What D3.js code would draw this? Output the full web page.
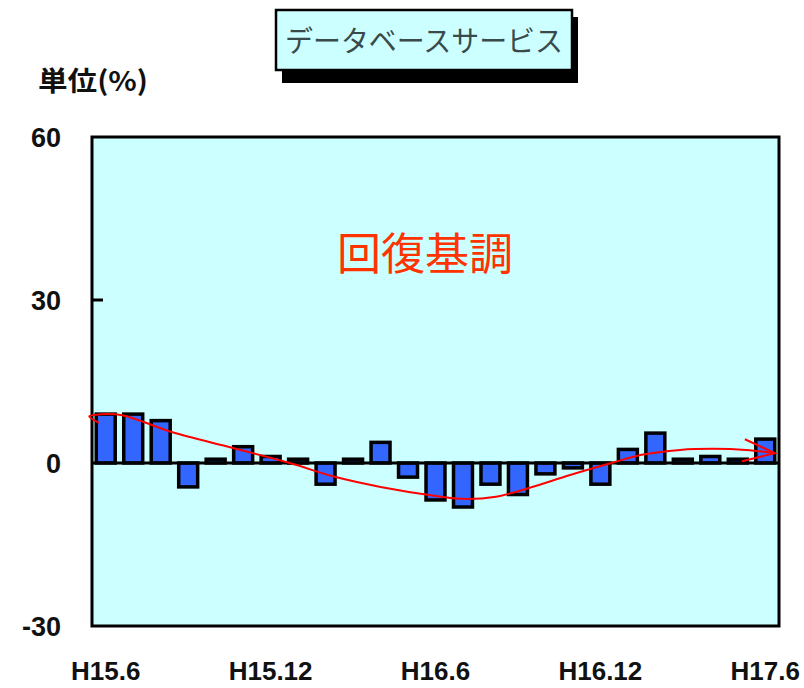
<!DOCTYPE html>
<html>
<head>
<meta charset="utf-8">
<script src="https://cdn.jsdelivr.net/npm/d3@7"></script>
<style>
  body { margin: 0; background: #fff; }
  svg { display: block; }
</style>
</head>
<body>
<svg id="chart"></svg>
<script>
// months H15.6 .. H17.6
var months = d3.range(25).map(function(i){ return "m" + i; });
var values = [9.0, 9.0, 7.8, -4.4, 0.7, 3.0, 1.2, 0.7, -3.9, 0.7,
              3.8, -2.6, -6.8, -8.1, -3.9, -5.8, -2.0, -0.9, -3.9, 2.5,
              5.5, 0.7, 1.2, 0.7, 4.4];
var tickLabels = [{i: 0, t: "H15.6"}, {i: 6, t: "H15.12"}, {i: 12, t: "H16.6"},
                  {i: 18, t: "H16.12"}, {i: 24, t: "H17.6"}];
var yTicks = [60, 30, 0, -30];
// hand drawn trend line: [month index, value]
var trend = [[-0.25, 7.4], [-0.6, 8.6], [-0.2, 8.95], [0.6, 8.8], [2.4, 5.7], [4.6, 2.8],
             [6.7, 0], [8.3, -2.5], [10, -4.4], [12.2, -6.2], [13.0, -6.6], [14.2, -6.2],
             [15.4, -4.6], [16.9, -2.2], [18.4, 0], [19.5, 1.5], [20.9, 2.4], [22.1, 2.6],
             [23.3, 2.4], [24.35, 1.8]];

var width = 804, height = 688;
var plotL = 92, plotR = 779, plotT = 137, plotB = 626;

var svg = d3.select("#chart").attr("width", width).attr("height", height);

var x = d3.scaleBand().domain(months).range([plotL, plotR]).paddingInner(0.31).paddingOuter(0.155);
var y = d3.scaleLinear().domain([-30, 60]).range([plotB, plotT]);
var step = x.step();
function xi(i) { return plotL + x.paddingOuter() * step + x.bandwidth() / 2 + i * step; }

// title box with shadow
svg.append("rect").attr("x", 282).attr("y", 17).attr("width", 296).attr("height", 66).attr("fill", "#000");
svg.append("rect").attr("x", 276).attr("y", 10).attr("width", 296).attr("height", 60)
  .attr("fill", "#ccffff").attr("stroke", "#000").attr("stroke-width", 2.5);
svg.append("text").attr("x", 424).attr("y", 52).attr("text-anchor", "middle")
  .attr("font-family", "Noto Sans CJK JP").attr("font-size", 29).attr("fill", "#3a4a4a")
  .attr("textLength", 278).attr("lengthAdjust", "spacingAndGlyphs")
  .text("データベースサービス");

// unit label
svg.append("text").attr("x", 38).attr("y", 91)
  .attr("font-family", "Noto Sans CJK JP").attr("font-weight", "bold").attr("font-size", 27)
  .attr("textLength", 110).attr("lengthAdjust", "spacingAndGlyphs")
  .attr("fill", "#111").text("単位(%)");

// plot background
svg.append("rect").attr("x", plotL).attr("y", plotT).attr("width", plotR - plotL).attr("height", plotB - plotT)
  .attr("fill", "#ccffff").attr("stroke", "#000").attr("stroke-width", 3);

// y tick labels
svg.append("g").selectAll("text").data(yTicks).join("text")
  .attr("x", 61).attr("y", function(d){ return y(d) + 10; })
  .attr("text-anchor", "end")
  .attr("font-family", "Liberation Sans Narrow, Liberation Sans, Arial").attr("font-weight", "bold")
  .attr("font-size", 27).attr("fill", "#111")
  .text(function(d){ return d; });

// inner ticks
svg.append("g").selectAll("line").data(yTicks.filter(function(d){ return d > -30 && d < 60 && d != 0; }))
  .join("line")
  .attr("x1", plotL).attr("x2", plotL + 11)
  .attr("y1", function(d){ return y(d); }).attr("y2", function(d){ return y(d); })
  .attr("stroke", "#000").attr("stroke-width", 3);

// bars
svg.append("g").selectAll("rect").data(values).join("rect")
  .attr("x", function(d, i){ return x(months[i]); })
  .attr("width", x.bandwidth())
  .attr("y", function(d){ return d >= 0 ? y(d) : y(0); })
  .attr("height", function(d){ return Math.abs(y(d) - y(0)); })
  .attr("fill", "#3366ff").attr("stroke", "#000").attr("stroke-width", 3.5);

// zero line
svg.append("line").attr("x1", plotL).attr("x2", plotR).attr("y1", y(0)).attr("y2", y(0))
  .attr("stroke", "#000").attr("stroke-width", 3);

// x labels
svg.append("g").selectAll("text").data(tickLabels).join("text")
  .attr("x", function(d){ return xi(d.i); }).attr("y", 680)
  .attr("text-anchor", "middle")
  .attr("font-family", "Liberation Sans Narrow, Liberation Sans, Arial").attr("font-weight", "bold")
  .attr("font-size", 26).attr("fill", "#111")
  .text(function(d){ return d.t; });

// trend line
var line = d3.line().x(function(d){ return xi(d[0]); }).y(function(d){ return y(d[1]); })
  .curve(d3.curveCatmullRom.alpha(0.5));
svg.append("path").datum(trend).attr("d", line)
  .attr("fill", "none").attr("stroke", "#ff0000").attr("stroke-width", 2);

// arrow head
var last = trend[trend.length - 1];
var tx = xi(last[0]), ty = y(last[1]);
svg.append("path")
  .attr("d", "M" + (tx - 30) + "," + (ty - 14) + "L" + tx + "," + ty + "L" + (tx - 33) + "," + (ty + 8))
  .attr("fill", "none").attr("stroke", "#ff0000").attr("stroke-width", 2);

// annotation
svg.append("text").attr("x", 425).attr("y", 270).attr("text-anchor", "middle")
  .attr("font-family", "Noto Sans CJK JP").attr("font-size", 44).attr("fill", "#ff3300")
  .text("回復基調");
</script>
</body>
</html>
